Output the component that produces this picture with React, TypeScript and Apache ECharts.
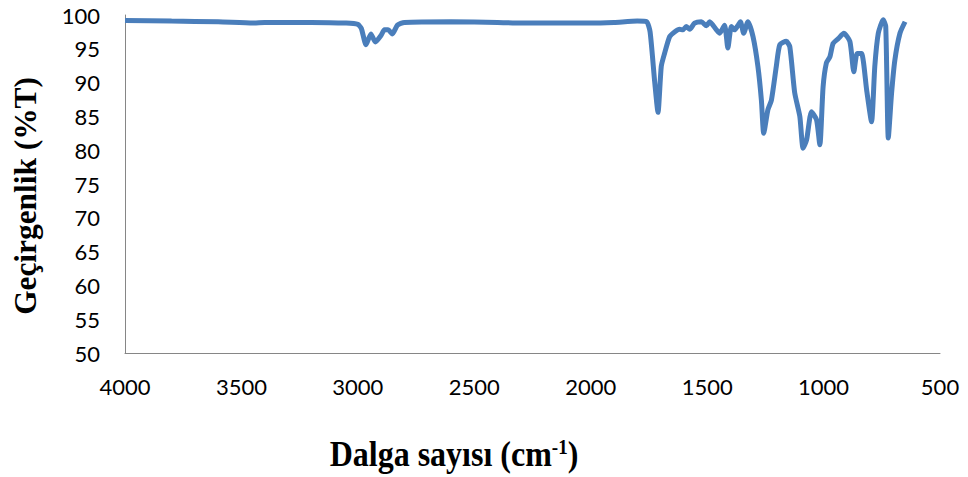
import React, { useEffect, useRef } from "react";
import * as echarts from "echarts";

const wavenumbers = [
  4000, 3800, 3600, 3450, 3400, 3200, 3050, 3000, 2985, 2965, 2944, 2925, 2900, 2886, 2870, 2852, 2830, 2800,
  2600, 2400, 2300, 2150, 2000, 1900, 1800, 1760, 1745, 1725, 1711, 1697, 1683, 1661, 1640, 1618, 1604, 1590,
  1575, 1554, 1525, 1503, 1489, 1460, 1446, 1425, 1411, 1396, 1382, 1367, 1357, 1343, 1325, 1303, 1282, 1267,
  1257, 1239, 1224, 1203, 1188, 1160, 1145, 1124, 1102, 1088, 1073, 1052, 1030, 1016, 1002, 988, 973, 959, 937,
  913, 887, 870, 856, 837, 815, 794, 780, 765, 744, 733, 722, 708, 694, 672, 650,
];
const transmittance = [
  99.2, 99.1, 99.0, 98.8, 98.9, 98.9, 98.8, 98.6, 98.0, 95.6, 97.2, 96.0, 97.0, 97.8, 97.8, 97.2, 98.5, 98.9,
  99.0, 98.9, 98.8, 98.8, 98.8, 98.9, 99.1, 99.0, 97.5, 90.0, 85.6, 92.4, 94.3, 96.8, 97.5, 97.9, 97.8, 98.3,
  97.9, 98.8, 99.0, 98.4, 99.0, 97.8, 97.3, 98.5, 95.1, 98.3, 97.8, 98.5, 99.0, 97.3, 99.0, 96.8, 92.4, 87.4,
  82.5, 86.0, 87.4, 92.4, 95.6, 96.1, 95.3, 88.5, 85.0, 80.3, 81.5, 85.7, 84.5, 80.8, 89.4, 92.9, 93.8, 95.8, 96.5,
  97.3, 96.1, 91.6, 94.3, 94.3, 88.9, 84.2, 92.4, 97.3, 99.3, 98.3, 81.8, 88.4, 93.3, 97.3, 99.0,
];
const xTicks = { min: 500, max: 4000, interval: 500 };
const yTicks = { min: 50, max: 100, interval: 5 };
const yTitle = "Geçirgenlik (%T)";
const xTitleMain = "Dalga sayısı (cm";
const xTitleSup = "-1";

export default function App() {
  const ref = useRef<HTMLDivElement>(null);
  useEffect(() => {
    if (!ref.current) return;
    const chart = echarts.init(ref.current, undefined, { renderer: "svg" });
    const data = wavenumbers.map((w, i) => [w, transmittance[i]]);
    chart.setOption({
      animation: false,
      backgroundColor: "#ffffff",
      grid: { left: 125, right: 28, top: 15, bottom: 124 },
      xAxis: {
        type: "value",
        inverse: true,
        min: xTicks.min,
        max: xTicks.max,
        interval: xTicks.interval,
        axisLine: { show: true, lineStyle: { color: "#868686", width: 1 } },
        axisTick: { show: false },
        splitLine: { show: false },
        axisLabel: {
          color: "#000",
          fontFamily: "Lato",
          fontSize: 22,
          margin: 22,
          formatter: (v: number) => String(v),
        },
      },
      yAxis: {
        type: "value",
        min: yTicks.min,
        max: yTicks.max,
        interval: yTicks.interval,
        axisLine: { show: true, lineStyle: { color: "#868686", width: 1 } },
        axisTick: { show: false },
        splitLine: { show: false },
        axisLabel: { color: "#000", fontFamily: "Lato", fontSize: 22, margin: 25 },
      },
      graphic: [
        {
          type: "text",
          x: 25,
          y: 196,
          rotation: Math.PI / 2,
          scaleX: 0.98,
          style: {
            text: yTitle,
            font: "bold 32px 'Liberation Serif'",
            fill: "#000",
            align: "center",
            verticalAlign: "middle",
          },
        },
        {
          type: "text",
          x: 454,
          y: 454,
          scaleY: 1.13,
          style: {
            text: `{a|${xTitleMain}}{s|${xTitleSup}}{a|)}`,
            rich: {
              a: { font: "bold 32px 'Liberation Serif'", fill: "#000" },
              s: { font: "bold 19px 'Liberation Serif'", fill: "#000", verticalAlign: "top", padding: [0, 0, 12, 0] },
            },
            align: "center",
            verticalAlign: "middle",
          },
        },
      ],
      series: [
        {
          type: "line",
          data,
          showSymbol: false,
          smooth: 0.2,
          lineStyle: { color: "#4a7ebb", width: 5 },
        },
      ],
    });
    return () => chart.dispose();
  }, []);
  return <div ref={ref} style={{ position: "fixed", left: 0, top: 0, width: 968, height: 477 }} />;
}
